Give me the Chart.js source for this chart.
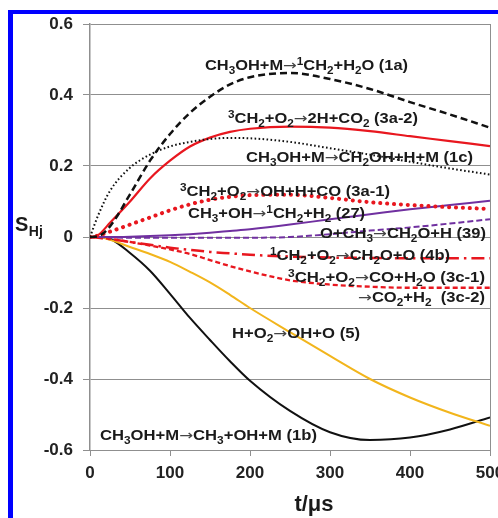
<!DOCTYPE html>
<html><head><meta charset="utf-8">
<script src="https://cdn.jsdelivr.net/npm/chart.js@4"></script>
<style>html,body{margin:0;padding:0;background:#fff;overflow:hidden}</style>
</head><body>
<canvas id="c" width="498" height="518" style="display:block;width:498px;height:518px"></canvas>
<script>
// ---- data ----
const times = [0,10,25,50,75,100,125,150,175,200,250,300,350,400,450,500];
const s1a  = [0,0.002,0.03,0.12,0.215,0.29,0.35,0.395,0.43,0.45,0.462,0.445,0.417,0.38,0.345,0.308];
const s1b  = [0,0,-0.005,-0.045,-0.095,-0.16,-0.228,-0.29,-0.35,-0.405,-0.49,-0.55,-0.572,-0.565,-0.542,-0.508];
const s1c  = [0,0.06,0.13,0.195,0.232,0.255,0.268,0.276,0.279,0.278,0.268,0.25,0.232,0.212,0.193,0.176];
const s3a2 = [0,0.005,0.04,0.1,0.165,0.215,0.255,0.28,0.296,0.305,0.311,0.308,0.298,0.284,0.27,0.256];
const s3a1 = [0,0.004,0.015,0.035,0.055,0.075,0.092,0.105,0.113,0.118,0.119,0.11,0.098,0.09,0.084,0.079];
const s27  = [0,0,0,0.001,0.003,0.005,0.008,0.012,0.017,0.022,0.035,0.05,0.064,0.078,0.09,0.102];
const s39  = [0,0,-0.001,-0.002,-0.002,-0.002,-0.002,-0.002,-0.002,-0.002,0,0.008,0.018,0.027,0.038,0.05];
const s4b  = [0,-0.002,-0.006,-0.014,-0.022,-0.03,-0.036,-0.042,-0.046,-0.05,-0.055,-0.058,-0.059,-0.06,-0.06,-0.06];
const s3c  = [0,-0.002,-0.005,-0.014,-0.024,-0.035,-0.048,-0.065,-0.082,-0.097,-0.122,-0.134,-0.14,-0.143,-0.143,-0.143];
const s5   = [0,0,-0.008,-0.028,-0.048,-0.07,-0.098,-0.128,-0.163,-0.2,-0.268,-0.335,-0.4,-0.452,-0.495,-0.532];
const xTicks = [0,100,200,300,400,500];
const yTicks = [-0.6,-0.4,-0.2,0,0.2,0.4,0.6];
const xTitle = 't/\u03bcs';

// ---- text annotations (rich text: _x subscript, ^x superscript) ----
const annotations = [
  {text:'CH_3OH+M\u2192^1CH_2+H_2O (1a)', x0:205, x1:408, y:70},
  {text:'^3CH_2+O_2\u21922H+CO_2 (3a-2)', x0:228, x1:418, y:123},
  {text:'CH_3OH+M\u2192CH_2OH+H+M (1c)', x0:246, x1:473, y:162},
  {text:'^3CH_2+O_2\u2192OH+H+CO (3a-1)', x0:180, x1:390, y:196},
  {text:'CH_3+OH\u2192^1CH_2+H_2 (27)', x0:188, x1:365, y:218},
  {text:'O+CH_3\u2192CH_2O+H (39)', x0:320, x1:486, y:238},
  {text:'^1CH_2+O_2\u2192CH_2O+O (4b)', x0:270, x1:450, y:260},
  {text:'^3CH_2+O_2\u2192CO+H_2O (3c-1)', x0:288, x1:485, y:282},
  {text:'\u2192CO_2+H_2  (3c-2)', x0:358, x1:485, y:302},
  {text:'H+O_2\u2192OH+O (5)', x0:232, x1:360, y:338},
  {text:'CH_3OH+M\u2192CH_3+OH+M (1b)', x0:100, x1:317, y:440}
];

const FAM = '"Liberation Sans", Arial, sans-serif';
const RED = '#e8171f', PURPLE = '#7030a0', GOLD = '#f2b51c', BLK = '#111';
const GRID = '#8f8f8f';

function pts(arr){ return times.map((t,i)=>({x:t,y:arr[i]})); }
function ds(label, arr, color, width, dash, cap){
  return {label, data:pts(arr), borderColor:color, borderWidth:width,
          borderDash:dash||[], borderCapStyle:cap||'butt', pointRadius:0,
          cubicInterpolationMode:'monotone', fill:false};
}

function parseRich(s){
  const segs=[]; let i=0;
  while(i<s.length){
    const ch=s[i];
    if((ch==='_'||ch==='^') && i+1<s.length){ segs.push({t:s[i+1], k:ch==='_'?'sub':'sup'}); i+=2; }
    else if(ch==='\u2192'){ segs.push({t:ch,k:'arr'}); i++; }
    else { if(segs.length && segs[segs.length-1].k==='n') segs[segs.length-1].t+=ch; else segs.push({t:ch,k:'n'}); i++; }
  }
  return segs;
}
function fontFor(k){
  if(k==='n') return 'bold 14px '+FAM;
  if(k==='arr') return '14px "DejaVu Sans", sans-serif';
  return 'bold 10px '+FAM;
}
function drawRich(ctx, text, x0, x1, y){
  const segs=parseRich(text);
  let w=0;
  segs.forEach(s=>{ctx.font=fontFor(s.k); s.w=ctx.measureText(s.t).width; w+=s.w;});
  const sc=(x1-x0)/w;
  ctx.save();
  ctx.translate(x0,y); ctx.scale(sc,1);
  ctx.textBaseline='alphabetic'; ctx.textAlign='left';
  let x=0;
  segs.forEach(s=>{
    ctx.font=fontFor(s.k);
    ctx.fillStyle = s.k==='arr' ? '#444' : '#1a1a1a';
    const dy = s.k==='sub'?4:(s.k==='sup'?-5:(s.k==='arr'?-0.5:0));
    ctx.fillText(s.t,x,dy); x+=s.w;
  });
  ctx.restore();
}

const framePlugin = {
  id:'frame',
  beforeDraw(chart){
    const c=chart.ctx; c.save();
    c.fillStyle='#fff'; c.fillRect(0,0,chart.width,chart.height);
    c.fillStyle='#0000ff';
    c.fillRect(8,10,5,chart.height-10);
    c.fillRect(8,10,chart.width-8,4);
    c.restore();
  },
  afterDraw(chart){
    const c=chart.ctx; c.save();
    annotations.forEach(a=>drawRich(c,a.text,a.x0,a.x1,a.y));
    c.fillStyle='#1a1a1a'; c.textBaseline='alphabetic';
    c.font='bold 20px '+FAM; c.textAlign='left';
    c.fillText('S',15,231);
    const sw=c.measureText('S').width;
    c.font='bold 14px '+FAM;
    c.fillText('Hj',15+sw+0.5,236);
    c.font='bold 22px '+FAM; c.textAlign='center';
    c.fillText(xTitle,314,511);
    c.restore();
  }
};

const tickFont = {family:FAM, size:17, weight:'bold'};
new Chart(document.getElementById('c').getContext('2d'), {
  type:'line',
  data:{datasets:[
    ds('1c', s1c, BLK, 2, [1.6,2.4]),
    ds('1a', s1a, BLK, 2.5, [7,4]),
    ds('3a-2', s3a2, RED, 2.2),
    ds('3a-1', s3a1, RED, 4, [0.1,6.8], 'round'),
    ds('27', s27, PURPLE, 2),
    ds('39', s39, PURPLE, 2, [6,3]),
    ds('4b', s4b, RED, 2.5, [13,5,2.5,5]),
    ds('3c', s3c, RED, 2.3, [5,3]),
    ds('5', s5, GOLD, 2),
    ds('1b', s1b, BLK, 2)
  ]},
  options:{
    responsive:false, animation:false, devicePixelRatio:1,
    layout:{padding:{left:0,right:8,top:24,bottom:0}},
    plugins:{legend:{display:false}, tooltip:{enabled:false}},
    scales:{
      x:{type:'linear', min:0, max:500,
         afterBuildTicks:s=>{s.ticks=xTicks.map(v=>({value:v}));},
         afterFit:s=>{s.height=68; s.paddingLeft=0; s.paddingRight=0;},
         ticks:{font:tickFont, color:'#222', padding:7, maxRotation:0, autoSkip:false, callback:v=>String(v)},
         grid:{color:c=> (c.tick && c.tick.value===500) ? GRID : 'rgba(0,0,0,0)', tickColor:GRID, tickLength:6, lineWidth:1},
         border:{display:false}},
      y:{min:-0.6, max:0.6,
         afterBuildTicks:s=>{s.ticks=yTicks.map(v=>({value:v}));},
         afterFit:s=>{s.width=90; s.paddingTop=0; s.paddingBottom=0;},
         ticks:{font:tickFont, color:'#222', padding:10, callback:v=>String(Math.round(v*10)/10)},
         grid:{color:GRID, tickColor:GRID, tickLength:7, lineWidth:1},
         border:{display:true, color:GRID, width:1.5}}
    }
  },
  plugins:[framePlugin]
});
</script>
</body></html>
